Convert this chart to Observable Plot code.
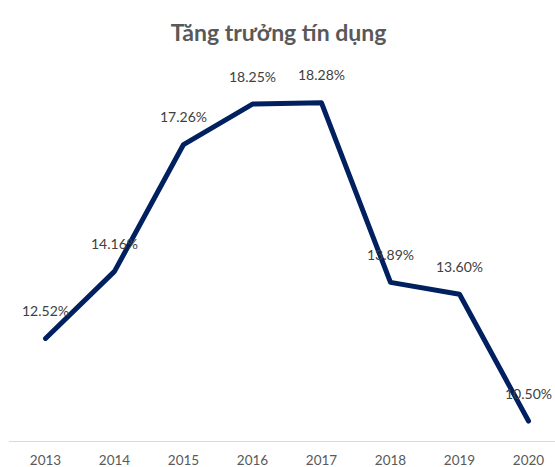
<!DOCTYPE html>
<html>
<head>
<meta charset="utf-8">
<script src="https://cdn.jsdelivr.net/npm/d3@7"></script>
<script src="https://cdn.jsdelivr.net/npm/@observablehq/plot@0.6"></script>
<style>
  html, body { margin: 0; padding: 0; background: #fff; }
  svg { display: block; }
</style>
</head>
<body>
<div id="chart"></div>
<script>
const title = "Tăng trưởng tín dụng";
const years = ["2013", "2014", "2015", "2016", "2017", "2018", "2019", "2020"];
const growth = [12.52, 14.16, 17.26, 18.25, 18.28, 13.89, 13.60, 10.50];

const data = years.map((year, i) => ({year, value: growth[i]}));

const chart = Plot.plot({
  width: 555,
  height: 467,
  marginLeft: 9,
  marginRight: 0,
  marginTop: 32,
  marginBottom: 26,
  style: {fontFamily: "Lato, 'Open Sans', sans-serif", background: "#fff"},
  x: {type: "point", domain: years, range: [44, 529], padding: 0},
  y: {domain: [10, 20], axis: null},
  marks: [
    Plot.frame({anchor: "bottom", stroke: "#d9d9d9", strokeWidth: 1.2}),
    Plot.axisX({tickSize: 0, tickPadding: 14, fontSize: 13.5, color: "#595959", label: null}),
    Plot.line(data, {x: "year", y: "value", stroke: "#002060", strokeWidth: 5, strokeLinecap: "round", strokeLinejoin: "round"}),
    Plot.text(data, {x: "year", y: "value", text: d => d.value.toFixed(2) + "%", dy: -27, fontSize: 14, fill: "#404040"}),
    Plot.text([title], {frameAnchor: "top", dy: -8, dx: -4, text: d => d, fontSize: 23, fontWeight: "bold", fill: "#595959"})
  ]
});
document.getElementById("chart").append(chart);
</script>
</body>
</html>
